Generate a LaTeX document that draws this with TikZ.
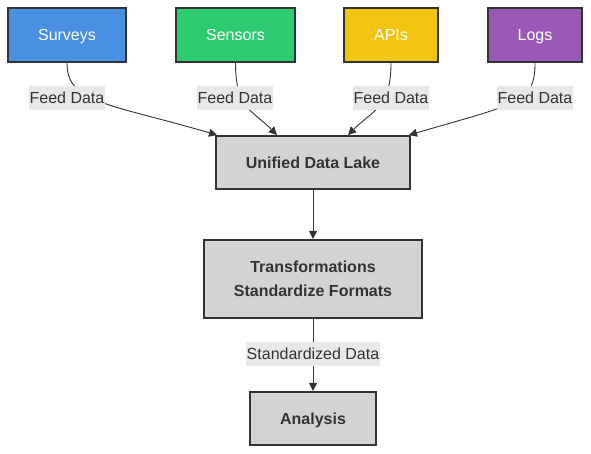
\documentclass[tikz,border=0pt]{standalone}
\usepackage{fontspec}
\setmainfont{Liberation Sans}
\usetikzlibrary{arrows.meta}
\definecolor{cblue}{HTML}{4A90E2}
\definecolor{cgreen}{HTML}{2ECC71}
\definecolor{cyellow}{HTML}{F1C40F}
\definecolor{cpurple}{HTML}{9B59B6}
\definecolor{cgray}{HTML}{D3D3D3}
\definecolor{cdark}{HTML}{333333}
\definecolor{clabel}{HTML}{E8E8E8}
\tikzset{
  src/.style={draw=cdark, line width=2pt, minimum height=54pt, text=white,
    font=\fontsize{16pt}{19pt}\selectfont, inner sep=0pt, text height=11.5pt, text depth=0pt},
  proc/.style={draw=cdark, line width=2pt, fill=cgray, text=cdark,
    font=\fontsize{16pt}{24pt}\selectfont\bfseries, inner sep=0pt, align=center},
  conn/.style={draw=cdark, line width=0.9pt, -{Triangle[length=8pt,width=8pt]}},
  elabel/.style={fill=clabel, text=cdark, font=\fontsize{16pt}{19pt}\selectfont,
    inner xsep=1pt, inner ysep=0pt, minimum height=24pt, text height=11.5pt, text depth=0pt}
}
\begin{document}
\begin{tikzpicture}[x=1pt,y=1pt]
\useasboundingbox (0,0) rectangle (591,454);
\node[src, fill=cblue, minimum width=118pt] (surveys) at (67,419) {Surveys};
\node[src, fill=cgreen, minimum width=119pt] (sensors) at (235.5,419) {Sensors};
\node[src, fill=cyellow, minimum width=94pt] (apis) at (391,419) {APIs};
\node[src, fill=cpurple, minimum width=94pt] (logs) at (535,419) {Logs};
\node[proc, minimum width=194pt, minimum height=53pt, text height=11.5pt, text depth=0pt] (lake) at (313,291.5) {Unified Data Lake};
\node[proc, minimum width=218pt, minimum height=78pt] (trans) at (313,175) {Transformations\\Standardize Formats};
\node[proc, minimum width=126pt, minimum height=53pt, text height=11.5pt, text depth=0pt] (analysis) at (313,35.5) {Analysis};

\coordinate (e1) at ([xshift=2pt]lake.north west);
\coordinate (e2) at ([xshift=-36pt]lake.north);
\coordinate (e3) at ([xshift=35pt]lake.north);
\coordinate (e4) at ([xshift=-2pt]lake.north east);

\draw[conn] (surveys.south) .. controls +(0,-40) and +(-110,32) .. (e1);
\draw[conn] (sensors.south) .. controls +(0,-45) and +(-25,25) .. (e2);
\draw[conn] (apis.south) .. controls +(0,-45) and +(25,25) .. (e3);
\draw[conn] (logs.south) .. controls +(0,-40) and +(110,32) .. (e4);
\draw[conn] (lake.south) -- (trans.north);
\draw[conn] (trans.south) -- (analysis.north);

\node[elabel] (l1) at (67,356) {Feed Data};
\node[elabel] (l2) at (235,356) {Feed Data};
\node[elabel] (l3) at (391,356) {Feed Data};
\node[elabel] (l4) at (535,356) {Feed Data};
\node[elabel] (l5) at (313,100) {Standardized Data};
\end{tikzpicture}
\end{document}
